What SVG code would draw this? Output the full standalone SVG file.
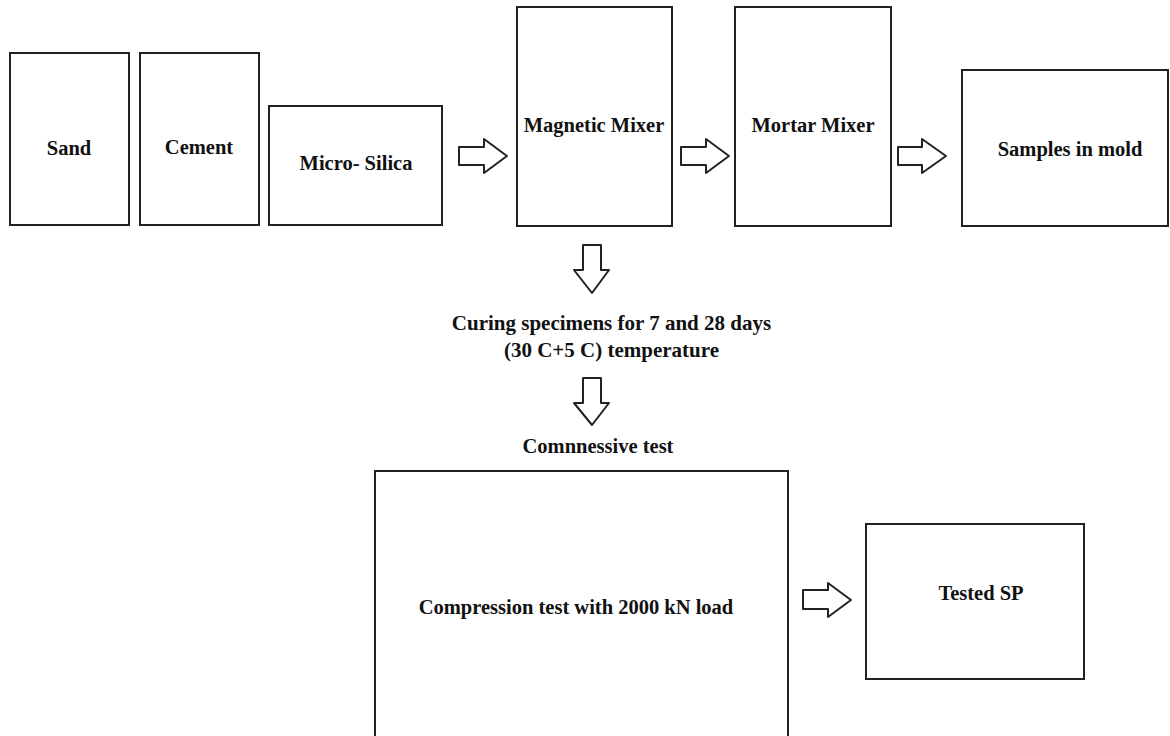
<svg xmlns="http://www.w3.org/2000/svg" width="1170" height="736" viewBox="0 0 1170 736">
<style>
.box{fill:#fff;stroke:#222;stroke-width:2}
.arr{fill:#fff;stroke:#222;stroke-width:2;stroke-linejoin:round}
.t{font-family:"Liberation Serif","Times New Roman",serif;font-weight:bold;font-size:20.5px;fill:#111;text-anchor:middle}
.t2{font-size:21px}
</style>
<rect width="1170" height="736" fill="#fff"/>
<g id="sand"><rect class="box" x="10" y="53" width="119" height="172"/><text class="t" x="69" y="155">Sand</text></g>
<g id="cement"><rect class="box" x="140" y="53" width="119" height="172"/><text class="t" x="199" y="154">Cement</text></g>
<g id="microsilica"><rect class="box" x="269" y="106" width="173" height="119"/><text class="t" x="356" y="170">Micro- Silica</text></g>
<g id="magnetic"><rect class="box" x="517" y="7" width="155" height="219"/><text class="t" x="594" y="132">Magnetic Mixer</text></g>
<g id="mortar"><rect class="box" x="735" y="7" width="156" height="219"/><text class="t" x="813" y="132">Mortar Mixer</text></g>
<g id="samples"><rect class="box" x="962" y="70" width="206" height="156"/><text class="t" x="1070" y="156">Samples in mold</text></g>
<g id="curing"><text class="t t2" x="611.5" y="330">Curing specimens for 7 and 28 days</text><text class="t t2" x="611.5" y="357">(30 C+5 C) temperature</text></g>
<g id="comnnessive"><text class="t" x="598" y="453">Comnnessive test</text></g>
<g id="compression"><rect class="box" x="375" y="471" width="413" height="280"/><text class="t" x="576" y="614">Compression test with 2000 kN load</text></g>
<g id="tested"><rect class="box" x="866" y="524" width="218" height="155"/><text class="t" x="981" y="600">Tested SP</text></g>
<g id="connectors">
<path class="arr" d="M459,147 H484 V139 L507,156 L484,173 V165 H459 Z"/>
<path class="arr" d="M681,147 H706 V139 L729,156 L706,173 V165 H681 Z"/>
<path class="arr" d="M898,147 H922 V139 L946,156 L922,173 V165 H898 Z"/>
<path class="arr" d="M803,590 H828 V583 L851,600 L828,617 V609 H803 Z"/>
<path class="arr" d="M583,245 H601 V270 H609 L592,293 L574,270 H583 Z"/>
<path class="arr" d="M583,378 H601 V403 H609 L592,425 L574,403 H583 Z"/>
</g>
</svg>
